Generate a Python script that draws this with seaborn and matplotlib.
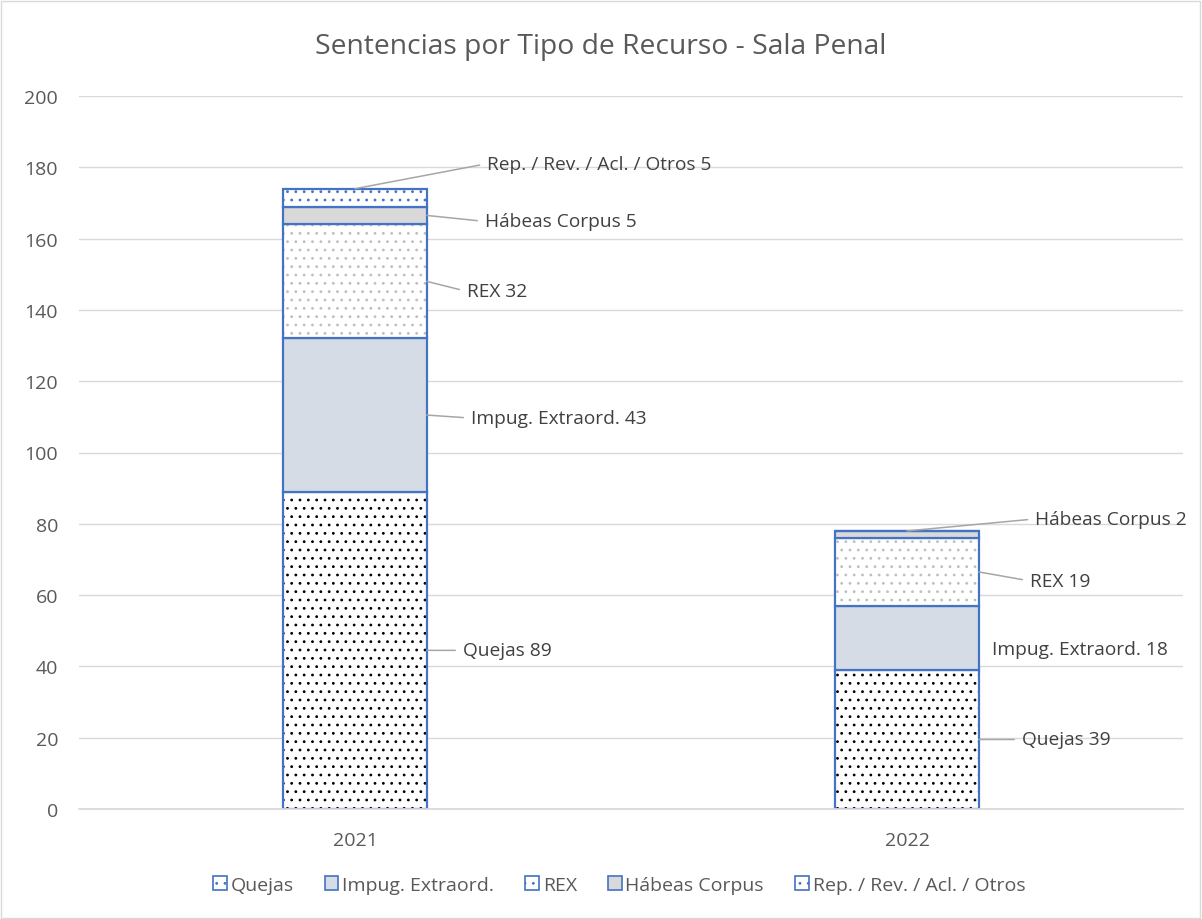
import numpy as np
import pandas as pd
import matplotlib.pyplot as plt
import seaborn as sns
from matplotlib.patches import Patch, Rectangle

# Data
years = ['2021', '2022']
series = ['Quejas', 'Impug. Extraord.', 'REX', 'Hábeas Corpus', 'Rep. / Rev. / Acl. / Otros']
quejas = [89, 39]
impug = [43, 18]
rex = [32, 19]
habeas = [5, 2]
otros = [5, 0]
values = [quejas, impug, rex, habeas, otros]

# Styles: (facecolor, hatch, hatch colour)
styles = [
    ('white', '..', '#000000'),
    ('#d6dce5', '', '#d6dce5'),
    ('white', '..', '#bfbfbf'),
    ('#d9d9d9', '', '#d9d9d9'),
    ('white', '..', '#4472c4'),
]
blue = '#4472c4'
text_col = '#404040'

sns.set_theme(style='white')
plt.rcParams['font.family'] = ['Open Sans', 'DejaVu Sans']
plt.rcParams['hatch.linewidth'] = 0.8

fig = plt.figure(figsize=(12.02, 9.2), dpi=100)
ax = fig.add_axes([79 / 1202, 110 / 920, 1104 / 1202, 713 / 920])

bottom = np.zeros(len(years))
for vals, (face, hatch, hcol) in zip(values, styles):
    # filled / hatched layer
    sns.barplot(x=years, y=vals, bottom=bottom, color=face, saturation=1,
                width=0.26, hatch=hatch, edgecolor=hcol, linewidth=0, ax=ax)
    # blue outline layer
    sns.barplot(x=years, y=vals, bottom=bottom, fill=False, color=blue,
                saturation=1, width=0.26, linewidth=1.6, ax=ax)
    bottom = bottom + np.array(vals)

# Data labels with leader lines
# (series index, year index, anchor at right edge?, offset px, leader?)
label_specs = [
    (0, 0, True, (36, 0), True),
    (1, 0, True, (44, -3), True),
    (2, 0, True, (40, -10), True),
    (3, 0, True, (58, -6), True),
    (4, 0, False, (132, 25), True),
    (0, 1, True, (43, 0), True),
    (1, 1, True, (13, -11), False),
    (2, 1, True, (51, -9), True),
    (3, 1, False, (128, 12), True),
]
cum = np.cumsum(np.array(values), axis=0)
for s, i, edge, off, leader in label_specs:
    v = values[s][i]
    top = cum[s][i]
    if edge:
        xy = (i + 0.13, top - v / 2)
    else:
        xy = (i, top)
    arrow = dict(arrowstyle='-', color='#a6a6a6', lw=1.1, shrinkA=3, shrinkB=0,
                 relpos=(0, 0.5)) if leader else None
    ax.annotate(f'{series[s]} {v}', xy=xy, xytext=off, textcoords='offset pixels',
                ha='left', va='center', fontsize=13.8, color=text_col,
                arrowprops=arrow)

ax.set_ylim(0, 200)
ax.set_xlim(-0.5, 1.5)
ax.set_yticks(range(0, 201, 20))
ax.yaxis.grid(True, color='#d9d9d9', linewidth=1)
ax.set_axisbelow(True)
for side in ['top', 'right', 'left']:
    ax.spines[side].set_visible(False)
ax.spines['bottom'].set_color('#d9d9d9')
ax.tick_params(axis='both', length=0, labelsize=14, labelcolor='#595959')
ax.tick_params(axis='x', pad=16)
ax.tick_params(axis='y', pad=15)
ax.set_xlabel('')
ax.set_ylabel('')

fig.text(0.5, 1 - 47 / 920, 'Sentencias por Tipo de Recurso - Sala Penal',
         ha='center', va='center', fontsize=20.3, color='#595959')

handles = [Patch(facecolor=f, edgecolor=blue, hatch=h, linewidth=1.2) for f, h, _ in styles]
fig.legend(handles, series, loc='center', bbox_to_anchor=(0.515, 1 - 886 / 920),
           ncol=5, frameon=False, fontsize=14, handlelength=0.7, handleheight=0.7,
           handletextpad=0.2, columnspacing=1.6, labelcolor='#595959')

fig.patches.append(Rectangle((1 / 1202, 1 / 920), 1199 / 1202, 917 / 920,
                             transform=fig.transFigure, fill=False,
                             edgecolor='#d9d9d9', linewidth=1))

fig.savefig('out.png', dpi=100)
